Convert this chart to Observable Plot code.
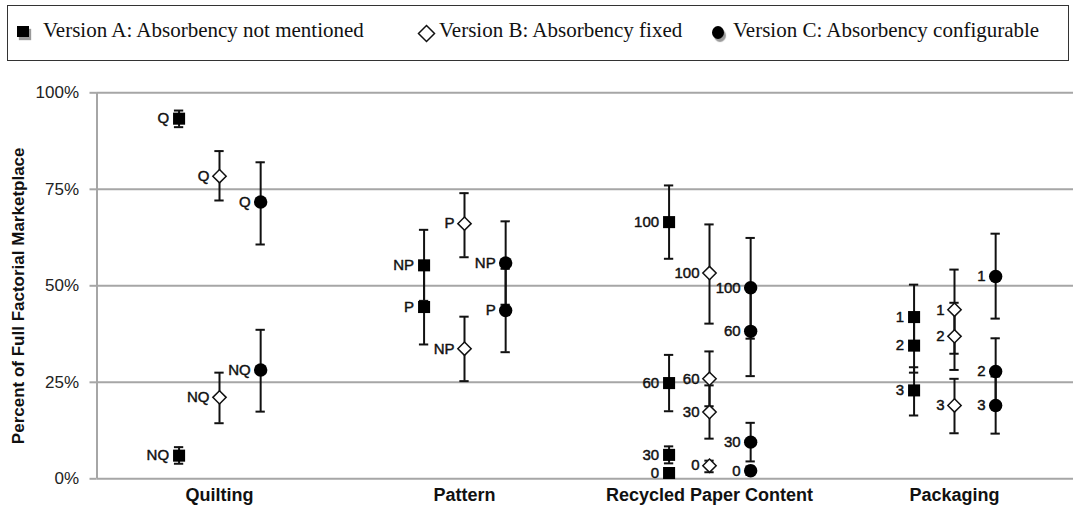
<!DOCTYPE html>
<html>
<head>
<meta charset="utf-8">
<script src="https://cdn.jsdelivr.net/npm/d3@7"></script>
<script src="https://cdn.jsdelivr.net/npm/@observablehq/plot@0.6"></script>
<style>
  html, body { margin: 0; padding: 0; background: #fff; }
  body { width: 1073px; height: 514px; overflow: hidden; position: relative; }
  #legend { position: relative; height: 64px; }
  #legend .box { position: absolute; left: 7px; top: 5px; width: 1062px; height: 56px; border: 1.8px solid #333; box-sizing: border-box; }
  #legend .item { position: absolute; top: 18px; font-family: "Liberation Serif", "Times New Roman", serif; font-size: 21px; color: #111; white-space: nowrap; line-height: 24px; }
  #legend .sym { position: absolute; }
  #chart svg { display: block; }
</style>
</head>
<body>
<div id="legend"><div class="box"></div></div>
<div id="chart"></div>
<script>
const categories = ["Quilting", "Pattern", "Recycled Paper Content", "Packaging"];
const versionKeys = ["A", "B", "C"];
const versionNames = [
  "Version A: Absorbency not mentioned",
  "Version B: Absorbency fixed",
  "Version C: Absorbency configurable"
];
const yTicks = [0, 25, 50, 75, 100];

const pointCategory = [
  "Quilting", "Quilting", "Quilting", "Quilting", "Quilting", "Quilting",
  "Pattern", "Pattern", "Pattern", "Pattern", "Pattern", "Pattern",
  "Recycled Paper Content", "Recycled Paper Content", "Recycled Paper Content", "Recycled Paper Content",
  "Recycled Paper Content", "Recycled Paper Content", "Recycled Paper Content", "Recycled Paper Content",
  "Recycled Paper Content", "Recycled Paper Content", "Recycled Paper Content", "Recycled Paper Content",
  "Packaging", "Packaging", "Packaging", "Packaging", "Packaging", "Packaging", "Packaging", "Packaging", "Packaging"
];
const pointVersion = [
  "A", "A", "B", "B", "C", "C",
  "A", "A", "B", "B", "C", "C",
  "A", "A", "A", "A", "B", "B", "B", "B", "C", "C", "C", "C",
  "A", "A", "A", "B", "B", "B", "C", "C", "C"
];
const pointLevel = [
  "Q", "NQ", "Q", "NQ", "Q", "NQ",
  "NP", "P", "P", "NP", "NP", "P",
  "100", "60", "30", "0", "100", "60", "30", "0", "100", "60", "30", "0",
  "1", "2", "3", "1", "2", "3", "1", "2", "3"
];
const pointValue = [
  93.3, 6.0, 78.4, 21.1, 71.7, 28.2,
  55.3, 44.5, 66.1, 33.7, 55.9, 43.6,
  66.5, 24.8, 6.2, 1.5, 53.3, 25.9, 17.3, 3.4, 49.5, 38.2, 9.5, 2.1,
  41.9, 34.5, 22.9, 43.8, 36.9, 19.0, 52.4, 27.8, 19.0
];
const pointLow = [
  91.1, 3.9, 72.1, 14.4, 60.7, 17.4,
  46.1, 34.8, 57.4, 25.3, 45.1, 32.8,
  57.0, 17.5, 4.0, 0.5, 40.2, 18.8, 10.4, 1.7, 36.3, 26.6, 4.5, 1.0,
  33.5, 27.5, 16.4, 32.4, 28.2, 11.8, 41.5, 19.5, 11.7
];
const pointHigh = [
  95.4, 8.2, 84.9, 27.5, 82.0, 38.6,
  64.5, 54.2, 74.0, 42.0, 66.7, 54.4,
  76.0, 32.1, 8.4, 2.5, 65.9, 33.0, 24.2, 4.7, 62.4, 49.8, 14.5, 3.2,
  50.3, 41.5, 28.9, 54.2, 45.6, 25.9, 63.5, 36.4, 26.5
];

// layout helpers
const versionOffset = {A: -0.165, B: 0, C: 0.168};
const points = pointValue.map((v, i) => ({
  category: pointCategory[i],
  version: pointVersion[i],
  level: pointLevel[i],
  x: categories.indexOf(pointCategory[i]) + versionOffset[pointVersion[i]],
  y: v / 100,
  lo: pointLow[i] / 100,
  hi: pointHigh[i] / 100
}));
const capHalf = 0.019;
const gridStroke = "#a6a6a6";

// legend (HTML)
const legend = document.getElementById("legend");
const legendPos = [
  {sym: 17, text: 43},
  {sym: 417, text: 439},
  {sym: 712, text: 733}
];
versionKeys.forEach((k, i) => {
  const s = document.createElement("div");
  s.className = "sym";
  s.style.left = legendPos[i].sym + "px";
  if (k === "A") {
    Object.assign(s.style, {top: "26px", width: "12px", height: "11px", background: "#000", boxShadow: "2px 3px 1px #9a9a9a"});
  } else if (k === "B") {
    s.innerHTML = '<svg width="19" height="19" style="display:block"><path d="M9.5 1.5 L17.5 9.5 L9.5 17.5 L1.5 9.5 Z" fill="#fff" stroke="#111" stroke-width="1.5"/></svg>';
    s.style.top = "24px";
  } else {
    Object.assign(s.style, {top: "26px", width: "12px", height: "13px", borderRadius: "50%", background: "#000", boxShadow: "2px 3px 1px #9a9a9a"});
  }
  legend.appendChild(s);
  const t = document.createElement("div");
  t.className = "item";
  t.style.left = legendPos[i].text + "px";
  t.textContent = versionNames[i];
  legend.appendChild(t);
});

const chart = Plot.plot({
  width: 1073,
  height: 450,
  marginLeft: 96.5,
  marginRight: 0,
  marginTop: 28.3,
  marginBottom: 35.7,
  style: {fontFamily: "'Liberation Sans', Arial, sans-serif", background: "#fff", color: "#111"},
  x: {domain: [-0.5, 3.5], range: [96.5, 1076.5], axis: null},
  y: {domain: [0, 1], axis: null},
  marks: [
    Plot.ruleY(yTicks, {y: d => d / 100, x1: -0.5, x2: 3.5, stroke: gridStroke, strokeWidth: 2}),
    Plot.ruleX([-0.5], {y1: 0, y2: 1, stroke: gridStroke, strokeWidth: 2}),
    Plot.axisY(yTicks.map(d => d / 100), {
      tickFormat: d3.format(".0%"), tickSize: 7, tickPadding: 11, stroke: gridStroke, strokeWidth: 2,
      fontSize: 17, label: null, fill: "#222"
    }),
    Plot.text(["Percent of Full Factorial Marketplace"], {
      frameAnchor: "left", textAnchor: "middle", rotate: -90, dx: -78.5, dy: 10, fontWeight: "bold", fontSize: 17, fill: "#111"
    }),
    Plot.text(categories, {
      x: (d, i) => i, frameAnchor: "bottom", dy: 22, fontWeight: "bold", fontSize: 18, fill: "#111"
    }),
    Plot.ruleX(points, {x: "x", y1: "lo", y2: "hi", stroke: "#111", strokeWidth: 2}),
    Plot.ruleY(points, {y: "lo", x1: d => d.x - capHalf, x2: d => d.x + capHalf, stroke: "#111", strokeWidth: 2}),
    Plot.ruleY(points, {y: "hi", x1: d => d.x - capHalf, x2: d => d.x + capHalf, stroke: "#111", strokeWidth: 2}),
    Plot.dot(points.filter(d => d.version === "A"), {x: "x", y: "y", symbol: "square", r: 6.8, fill: "#000", stroke: "none"}),
    Plot.dot(points.filter(d => d.version === "B"), {x: "x", y: "y", symbol: "diamond2", r: 6, fill: "#fff", stroke: "#111", strokeWidth: 1.5}),
    Plot.dot(points.filter(d => d.version === "C"), {x: "x", y: "y", symbol: "circle", r: 6.7, fill: "#000", stroke: "none"}),
    Plot.text(points, {x: "x", y: "y", text: "level", textAnchor: "end", dx: -10, fontSize: 15, fill: "#111", stroke: "#111", strokeWidth: 0.45})
  ]
});
document.getElementById("chart").appendChild(chart);
</script>
</body>
</html>
